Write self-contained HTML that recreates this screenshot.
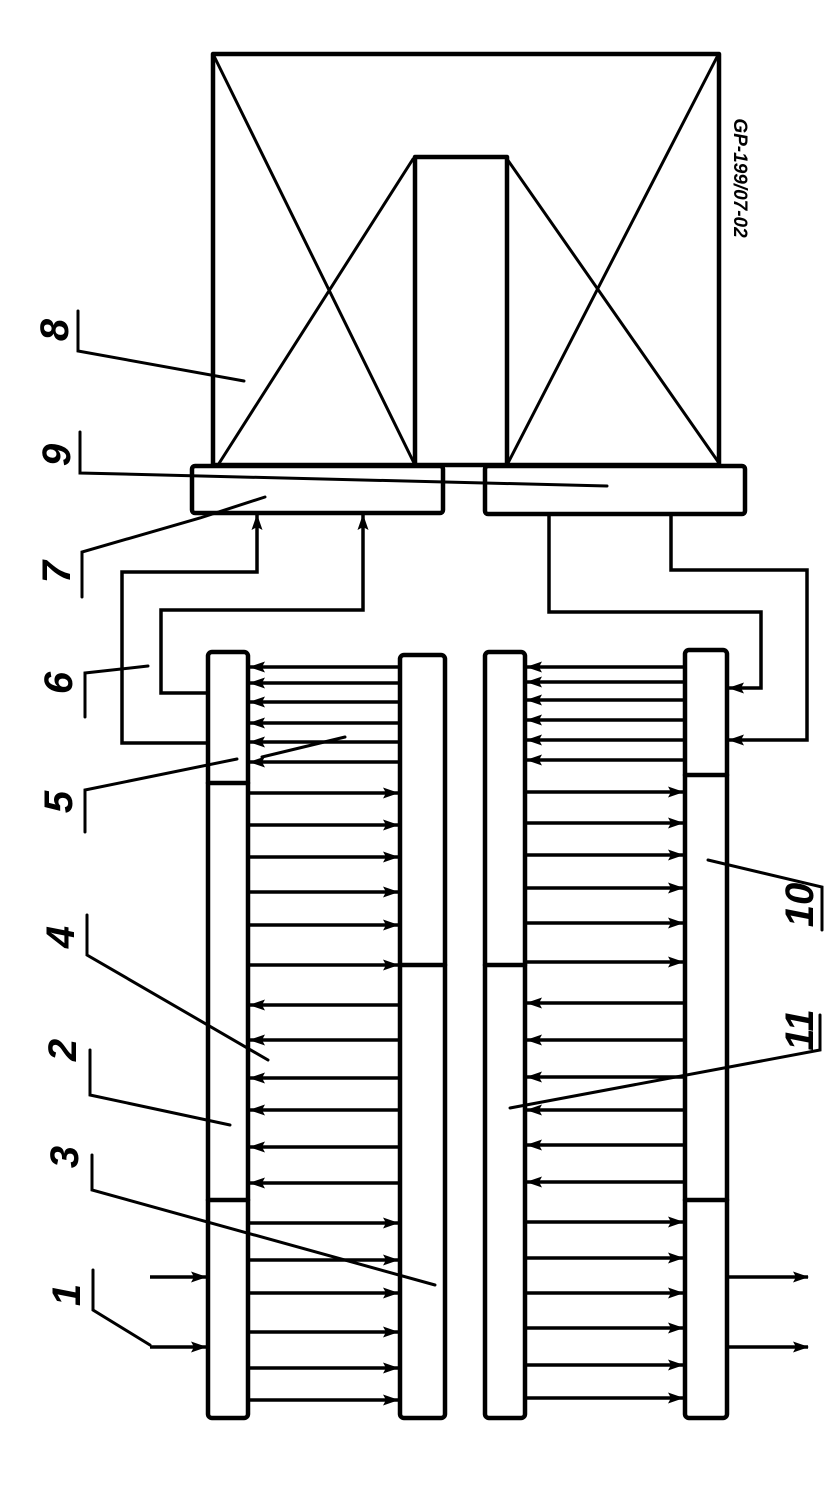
<!DOCTYPE html>
<html><head><meta charset="utf-8"><style>
html,body{margin:0;padding:0;background:#fff;}
svg{display:block;}
text{font-family:"Liberation Sans",sans-serif;font-style:italic;fill:#000;}
</style></head><body>
<svg width="824" height="1502" viewBox="0 0 824 1502" xmlns="http://www.w3.org/2000/svg">
<defs>
<marker id="a" markerWidth="16" markerHeight="11" refX="15" refY="5.5" orient="auto" markerUnits="userSpaceOnUse" viewBox="0 0 16 11">
<path d="M0,0 L16,5.5 L0,11 L3,5.5 Z" fill="#000"/>
</marker>
</defs>
<g stroke="#000" fill="none" stroke-width="4.5" stroke-linecap="round" stroke-linejoin="round">
<rect x="213" y="54" width="506" height="411"/>
<path d="M415,465 L415,157 L507,157 L507,465"/>
<line x1="213" y1="54" x2="415" y2="465" stroke-width="3"/>
<line x1="218" y1="465" x2="413" y2="159" stroke-width="3"/>
<line x1="507" y1="159" x2="719" y2="463" stroke-width="3"/>
<line x1="507" y1="465" x2="717" y2="57" stroke-width="3"/>
<rect x="192" y="466" width="251" height="47" rx="3"/>
<rect x="485" y="466" width="260" height="48" rx="3"/>
<rect x="208" y="652" width="40" height="766" rx="4"/>
<line x1="208" y1="783" x2="248" y2="783"/>
<line x1="208" y1="1200" x2="248" y2="1200"/>
<rect x="400" y="655" width="45" height="763" rx="4"/>
<line x1="400" y1="965" x2="445" y2="965"/>
<rect x="485" y="652" width="40" height="766" rx="4"/>
<line x1="485" y1="965" x2="525" y2="965"/>
<rect x="685" y="650" width="42" height="768" rx="4"/>
<line x1="685" y1="775" x2="727" y2="775"/>
<line x1="685" y1="1200" x2="727" y2="1200"/>
</g>
<g stroke="#000" fill="none" stroke-width="3.5">
<path d="M208,743 L122,743 L122,572 L257,572 L257,515" marker-end="url(#a)"/>
<path d="M208,693 L161,693 L161,610 L363,610 L363,515" marker-end="url(#a)"/>
<path d="M549,514 L549,612 L761,612 L761,688 L729,688" marker-end="url(#a)"/>
<path d="M671,514 L671,570 L807,570 L807,740 L729,740" marker-end="url(#a)"/>
<line x1="150" y1="1277" x2="206" y2="1277" marker-end="url(#a)"/>
<line x1="150" y1="1347" x2="206" y2="1347" marker-end="url(#a)"/>
<line x1="729" y1="1277" x2="808" y2="1277" marker-end="url(#a)"/>
<line x1="729" y1="1347" x2="808" y2="1347" marker-end="url(#a)"/>
<g marker-end="url(#a)">
<line x1="400" y1="667" x2="250" y2="667"/><line x1="400" y1="683" x2="250" y2="683"/>
<line x1="400" y1="702" x2="250" y2="702"/><line x1="400" y1="723" x2="250" y2="723"/>
<line x1="400" y1="742" x2="250" y2="742"/><line x1="400" y1="762" x2="250" y2="762"/>
<line x1="400" y1="1005" x2="250" y2="1005"/><line x1="400" y1="1040" x2="250" y2="1040"/>
<line x1="400" y1="1078" x2="250" y2="1078"/><line x1="400" y1="1110" x2="250" y2="1110"/>
<line x1="400" y1="1147" x2="250" y2="1147"/><line x1="400" y1="1183" x2="250" y2="1183"/>
<line x1="248" y1="793" x2="398" y2="793"/><line x1="248" y1="825" x2="398" y2="825"/>
<line x1="248" y1="857" x2="398" y2="857"/><line x1="248" y1="892" x2="398" y2="892"/>
<line x1="248" y1="925" x2="398" y2="925"/><line x1="248" y1="965" x2="398" y2="965"/>
<line x1="248" y1="1223" x2="398" y2="1223"/><line x1="248" y1="1260" x2="398" y2="1260"/>
<line x1="248" y1="1293" x2="398" y2="1293"/><line x1="248" y1="1332" x2="398" y2="1332"/>
<line x1="248" y1="1368" x2="398" y2="1368"/><line x1="248" y1="1400" x2="398" y2="1400"/>
<line x1="685" y1="667" x2="527" y2="667"/><line x1="685" y1="682" x2="527" y2="682"/>
<line x1="685" y1="700" x2="527" y2="700"/><line x1="685" y1="720" x2="527" y2="720"/>
<line x1="685" y1="740" x2="527" y2="740"/><line x1="685" y1="760" x2="527" y2="760"/>
<line x1="685" y1="1003" x2="527" y2="1003"/><line x1="685" y1="1040" x2="527" y2="1040"/>
<line x1="685" y1="1077" x2="527" y2="1077"/><line x1="685" y1="1110" x2="527" y2="1110"/>
<line x1="685" y1="1145" x2="527" y2="1145"/><line x1="685" y1="1182" x2="527" y2="1182"/>
<line x1="525" y1="792" x2="683" y2="792"/><line x1="525" y1="823" x2="683" y2="823"/>
<line x1="525" y1="855" x2="683" y2="855"/><line x1="525" y1="888" x2="683" y2="888"/>
<line x1="525" y1="923" x2="683" y2="923"/><line x1="525" y1="962" x2="683" y2="962"/>
<line x1="525" y1="1222" x2="683" y2="1222"/><line x1="525" y1="1258" x2="683" y2="1258"/>
<line x1="525" y1="1293" x2="683" y2="1293"/><line x1="525" y1="1328" x2="683" y2="1328"/>
<line x1="525" y1="1365" x2="683" y2="1365"/><line x1="525" y1="1398" x2="683" y2="1398"/>
</g>
</g>
<g stroke="#000" fill="none" stroke-width="3" stroke-linecap="round">
<path d="M78,311 L78,351 L244,381"/>
<path d="M80,432 L80,473 L607,486"/>
<path d="M82,597 L82,552 L200,518 L265,497"/>
<path d="M85,717 L85,673 L148,666"/>
<path d="M85,832 L85,790 L237,759"/>
<line x1="262" y1="757" x2="345" y2="737"/>
<path d="M87,915 L87,955 L268,1060"/>
<path d="M90,1050 L90,1095 L230,1125"/>
<path d="M92,1155 L92,1190 L435,1285"/>
<path d="M93,1270 L93,1310 L150,1345"/>
<path d="M822,930 L822,887 L708,860"/>
<path d="M820,1015 L820,1050 L510,1108"/>
</g>
<g font-size="40" font-weight="bold">
<text transform="translate(68,330) rotate(-90)" text-anchor="middle">8</text>
<text transform="translate(70,455) rotate(-90)" text-anchor="middle">9</text>
<text transform="translate(70,572) rotate(-90)" text-anchor="middle">7</text>
<text transform="translate(72,683) rotate(-90)" text-anchor="middle">6</text>
<text transform="translate(72,802) rotate(-90)" text-anchor="middle">5</text>
<text transform="translate(74,937) rotate(-90)" text-anchor="middle">4</text>
<text transform="translate(76,1050) rotate(-90)" text-anchor="middle">2</text>
<text transform="translate(78,1157) rotate(-90)" text-anchor="middle">3</text>
<text transform="translate(80,1295) rotate(-90)" text-anchor="middle">1</text>
<text transform="translate(813,905) rotate(-90)" text-anchor="middle">10</text>
<text transform="translate(813,1030) rotate(-90)" text-anchor="middle">11</text>
</g>
<text transform="translate(734,178) rotate(90)" text-anchor="middle" font-size="19" font-weight="bold">GP-199/07-02</text>
</svg>
</body></html>
